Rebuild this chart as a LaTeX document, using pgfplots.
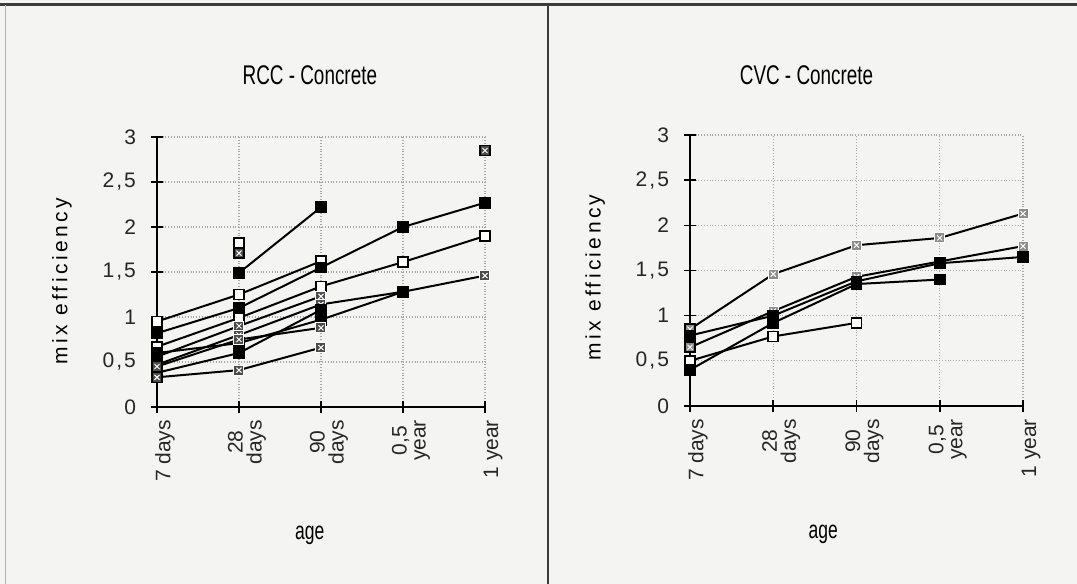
\documentclass[border=0pt]{standalone}
\usepackage{fontspec}
\setmainfont{Liberation Sans}
\newfontfamily\condfont[FakeStretch=0.70]{Liberation Sans}
\newfontfamily\spacedfont[LetterSpace=16]{Liberation Sans}
\newfontfamily\tickfont[LetterSpace=10]{Liberation Sans}
\usepackage{pgfplots}
\pgfplotsset{compat=1.18}
\definecolor{bg}{RGB}{244,244,242}
\definecolor{frame}{RGB}{60,60,60}
\pgfdeclareplotmark{sqx}{%
  \pgfpathrectangle{\pgfqpoint{-\pgfplotmarksize}{-\pgfplotmarksize}}{\pgfqpoint{2\pgfplotmarksize}{2\pgfplotmarksize}}%
  \pgfusepathqfillstroke
  \pgfsetstrokecolor{white}%
  \pgfsetlinewidth{0.5pt}%
  \pgfpathmoveto{\pgfqpoint{-0.5\pgfplotmarksize}{-0.5\pgfplotmarksize}}%
  \pgfpathlineto{\pgfqpoint{0.5\pgfplotmarksize}{0.5\pgfplotmarksize}}%
  \pgfpathmoveto{\pgfqpoint{-0.5\pgfplotmarksize}{0.5\pgfplotmarksize}}%
  \pgfpathlineto{\pgfqpoint{0.5\pgfplotmarksize}{-0.5\pgfplotmarksize}}%
  \pgfusepathqstroke
}
\pgfplotsset{
  panel/.style={
    scale only axis, anchor=south west,
    xmin=0, xmax=4, ymin=0, ymax=3,
    axis lines=left, axis line style={-, black, line width=1pt},
    xtick={0,1,2,3,4},
    xticklabels={7 days,{28\\days},{90\\days},{0,5\\year},1 year},
    ytick={0,0.5,1,1.5,2,2.5,3},
    yticklabels={0,{0,5},1,{1,5},2,{2,5},3},
    tick align=center, major tick length=6pt,
    tick style={black, line width=0.8pt},
    grid=major, grid style={densely dotted, gray!70, line width=0.6pt},
    xticklabel style={rotate=90, anchor=east, align=center, font=\fontsize{10.5}{9.5}\selectfont, yshift=-4pt, text=black!85},
    yticklabel style={font=\tickfont\fontsize{10.5}{12}\selectfont, xshift=-4pt, text=black!85},
    title style={font=\condfont\fontsize{13.5}{15}\selectfont, anchor=center, yshift=-6pt},
    xlabel style={font=\condfont\fontsize{12.5}{14}\selectfont, anchor=center, yshift=-2.5pt},
    ylabel style={font=\spacedfont\fontsize{10.5}{12}\selectfont, anchor=center, rotate=0},
    ylabel={mix efficiency}, xlabel={age},
    every axis plot/.append style={black, line width=1pt, mark size=2.5pt},
  },
  wht/.style={mark=square*, mark options={fill=white, draw=black, line width=0.8pt}},
  blk/.style={mark=square*, mark options={fill=black, draw=black, line width=0.8pt}},
  pat/.style={mark=sqx, mark options={fill=black!70, draw=black, line width=0.8pt}},
  patl/.style={mark=sqx, mark options={fill=black!45, draw=black, line width=0.8pt}},
}
\begin{document}
\begin{tikzpicture}
\fill[bg] (0,0) rectangle (538.5pt,292pt);
\path[use as bounding box] (0,0) rectangle (538.5pt,292pt);
\draw[frame, line width=1.5pt] (0,289.5pt) -- (538.5pt,289.5pt);
\draw[gray!60, line width=0.5pt] (2.5pt,0) -- (2.5pt,289.5pt);
\draw[frame, line width=1pt] (274pt,0) -- (274pt,289.5pt);

% Left panel: RCC
\begin{axis}[panel, at={(78.5pt,88.5pt)}, width=164pt, height=135pt,
  title={RCC - Concrete}, title style={at={(axis description cs:0.466,1.23)}},
  xlabel style={at={(axis description cs:0.466,-0.456)}},
  ylabel style={at={(axis description cs:-0.29,0.465)}}]
\addplot[wht] coordinates {(0,0.95)(1,1.25)(2,1.62)};
\addplot[blk] coordinates {(0,0.82)(1,1.10)(2,1.55)(3,2.00)(4,2.27)};
\addplot[blk] coordinates {(1,1.49)(2,2.22)};
\addplot[wht] coordinates {(1,1.82)};
\addplot[pat] coordinates {(1,1.71)};
\addplot[wht] coordinates {(0,0.67)(1,0.99)(2,1.34)(3,1.61)(4,1.90)};
\addplot[pat] coordinates {(0,0.56)(1,0.90)(2,1.23)};
\addplot[pat] coordinates {(0,0.47)(1,0.80)(2,1.14)(3,1.28)(4,1.46)};
\addplot[blk] coordinates {(0,0.60)(1,0.71)(2,0.97)(3,1.28)};
\addplot[blk] coordinates {(0,0.38)(1,0.60)(2,1.08)};
\addplot[pat] coordinates {(0,0.45)(1,0.75)(2,0.88)};
\addplot[pat] coordinates {(0,0.33)(1,0.41)(2,0.66)};
\addplot[pat] coordinates {(4,2.85)};
\end{axis}

% Right panel: CVC
\begin{axis}[panel, at={(345pt,89pt)}, width=166.5pt, height=135.5pt,
  title={CVC - Concrete}, title style={at={(axis description cs:0.35,1.22)}},
  xlabel style={at={(axis description cs:0.40,-0.456)}},
  ylabel style={at={(axis description cs:-0.285,0.474)}}]
\addplot[patl] coordinates {(0,0.85)(1,1.46)(2,1.78)(3,1.86)(4,2.13)};
\addplot[patl] coordinates {(0,0.65)(1,1.05)(2,1.43)(3,1.60)(4,1.77)};
\addplot[blk] coordinates {(0,0.78)(1,1.00)(2,1.38)(3,1.58)(4,1.65)};
\addplot[wht] coordinates {(0,0.50)(1,0.77)(2,0.92)};
\addplot[blk] coordinates {(0,0.40)(1,0.92)(2,1.35)(3,1.40)};
\end{axis}
\end{tikzpicture}
\end{document}
